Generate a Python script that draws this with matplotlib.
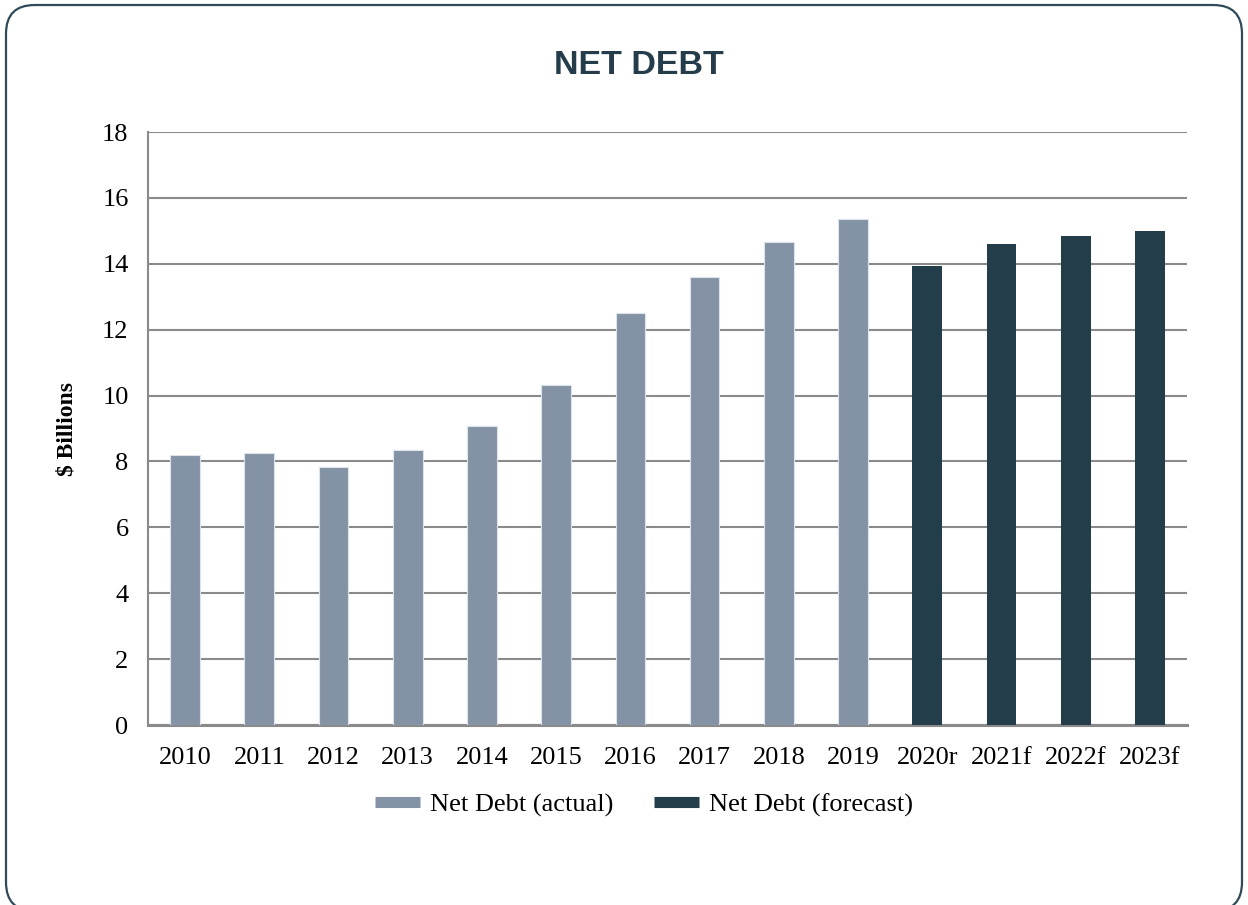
import matplotlib
matplotlib.use("Agg")
import matplotlib.pyplot as plt
from matplotlib.patches import FancyBboxPatch
from matplotlib.lines import Line2D

# net debt, $ billions
years_actual = ["2010", "2011", "2012", "2013", "2014", "2015",
                "2016", "2017", "2018", "2019"]
debt_actual = [8.21, 8.26, 7.84, 8.35, 9.09, 10.33, 12.50, 13.59, 14.67, 15.37]
years_forecast = ["2020r", "2021f", "2022f", "2023f"]
debt_forecast = [13.93, 14.60, 14.85, 15.00]

C_ACTUAL = "#8393a5"
C_FORECAST = "#233d4b"
C_GRID = "#8a8a8a"

fig = plt.figure(figsize=(12.48, 9.05), dpi=100)
fig.patch.set_facecolor("white")

# rounded frame around the whole chart
frame = FancyBboxPatch((6 / 1248, -6 / 905), 1236 / 1248, 906 / 905,
                       boxstyle="round,pad=0,rounding_size=0.023",
                       transform=fig.transFigure, facecolor="none",
                       edgecolor="#2f4a58", lw=1.6, mutation_aspect=1248 / 905)
fig.patches.append(frame)

ax = fig.add_axes([148 / 1248, 1 - 725 / 905, (1187 - 148) / 1248, (725 - 132) / 905])

labels = years_actual + years_forecast
xa = list(range(len(years_actual)))
xf = list(range(len(years_actual), len(labels)))
ax.bar(xa, debt_actual, width=0.4, color=C_ACTUAL, edgecolor="#dde3ea", lw=0.8, zorder=3)
ax.bar(xf, debt_forecast, width=0.4, color=C_FORECAST, lw=0, zorder=3)

ax.set_xlim(-0.5, len(labels) - 0.5)
ax.set_ylim(0, 18)
ax.set_yticks(range(0, 19, 2))
ax.set_xticks(range(len(labels)))
ax.set_xticklabels(labels)
ax.yaxis.grid(True, color=C_GRID, lw=1.5, zorder=0)
ax.set_axisbelow(True)
for side in ("top", "right"):
    ax.spines[side].set_visible(False)
ax.spines["left"].set_color(C_GRID)
ax.spines["left"].set_linewidth(1.5)
ax.spines["bottom"].set_color(C_GRID)
ax.spines["bottom"].set_linewidth(2.2)
ax.tick_params(length=0, labelsize=19, pad=14)
for lab in ax.get_xticklabels() + ax.get_yticklabels():
    lab.set_fontfamily("Liberation Serif")
ax.tick_params(axis="x", pad=16)

ax.set_ylabel("$ Billions", fontfamily="Liberation Serif", fontweight="bold",
              fontsize=17, labelpad=18)

fig.text(0.512, 1 - 66 / 905, "NET DEBT", ha="center", va="center",
         fontfamily="Liberation Sans", fontweight="bold", fontsize=24.5,
         color="#253d4b")

handles = [Line2D([], [], color=C_ACTUAL, lw=8, solid_capstyle="butt"),
           Line2D([], [], color=C_FORECAST, lw=8, solid_capstyle="butt")]
fig.legend(handles, ["Net Debt (actual)", "Net Debt (forecast)"],
           loc="center", bbox_to_anchor=(0.516, 1 - 805 / 905), ncol=2,
           frameon=False, prop={"family": "Liberation Serif", "size": 19},
           handlelength=1.7, columnspacing=1.55, handletextpad=0.38)

fig.savefig("out.png", dpi=100)
